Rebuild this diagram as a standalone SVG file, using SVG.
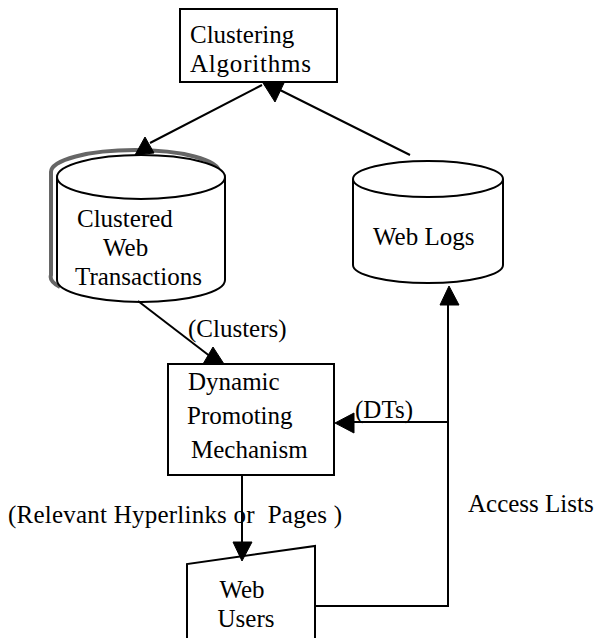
<svg xmlns="http://www.w3.org/2000/svg" width="597" height="638" viewBox="0 0 597 638">
  <style>
    .shape { fill: #ffffff; stroke: #000000; stroke-width: 2; }
    .shadow { fill: none; stroke: #666666; stroke-width: 4; }
    .line { fill: none; stroke: #000000; stroke-width: 2; }
    .head { fill: #000000; stroke: #000000; stroke-width: 1; stroke-linejoin: miter; }
    text { font-family: "Liberation Serif", "Times New Roman", serif; font-size: 25px; fill: #000000; white-space: pre; }
  </style>
  <rect width="597" height="638" fill="#ffffff"/>

  <!-- Clustering Algorithms -->
  <g id="clustering-algorithms">
    <rect class="shape" x="180" y="9" width="157" height="73"/>
    <text x="190" y="43">Clustering</text>
    <text x="190" y="72" textLength="121">Algorithms</text>
  </g>

  <!-- Clustered Web Transactions (stacked database) -->
  <g id="clustered-transactions">
    <path class="shadow" d="M51,172 A84,22 0 0 1 219,172 M51,172 L51,275 A84,22 0 0 0 60,287"/>
    <path class="shape" d="M57,177 L57,280 A84,22 0 0 0 225,280 L225,177 A84,22 0 0 0 57,177 Z"/>
    <path class="line" d="M57,177 A84,22 0 0 0 225,177"/>
    <text x="77" y="227">Clustered</text>
    <text x="103" y="256">Web</text>
    <text x="75" y="285">Transactions</text>
  </g>

  <!-- Web Logs -->
  <g id="web-logs">
    <path class="shape" d="M353,179 L353,265 A75,18 0 0 0 503,265 L503,179 A75,18 0 0 0 353,179 Z"/>
    <path class="line" d="M353,179 A75,18 0 0 0 503,179"/>
    <text x="373" y="245">Web Logs</text>
  </g>

  <!-- Dynamic Promoting Mechanism -->
  <g id="dynamic-promoting">
    <rect class="shape" x="168" y="364" width="166" height="111"/>
    <text x="188" y="390">Dynamic</text>
    <text x="187" y="424">Promoting</text>
    <text x="191" y="458">Mechanism</text>
  </g>

  <!-- Web Users (manual input) -->
  <g id="web-users">
    <path class="shape" d="M187,645 L187,564 L315,546 L315,645"/>
    <text x="242" y="598" text-anchor="middle">Web</text>
    <text x="246" y="627" text-anchor="middle">Users</text>
  </g>

  <!-- Connectors -->
  <g id="connectors">
    <!-- Web Logs to Clustering Algorithms -->
    <line class="line" x1="410" y1="155" x2="280" y2="90"/>
    <polygon class="head" points="263,83 284,83 275,102"/>
    <!-- Clustering Algorithms to Clustered Web Transactions -->
    <line class="line" x1="262" y1="85" x2="150" y2="143"/>
    <polygon class="head" points="145,137 135,155 154,153"/>
    <!-- Clusters to Dynamic Promoting Mechanism -->
    <line class="line" x1="138" y1="301" x2="211" y2="357"/>
    <polygon class="head" points="213,347 203,364 224,364"/>
    <text x="188" y="337">(Clusters)</text>
    <!-- Dynamic Promoting Mechanism to Web Users -->
    <line class="line" x1="242" y1="475" x2="242" y2="545"/>
    <polygon class="head" points="233,542 252,542 242,561"/>
    <text x="8" y="523" textLength="334">(Relevant Hyperlinks or  Pages )</text>
    <!-- Access lists from Web Users -->
    <polyline class="line" points="315,606 448,606 448,300"/>
    <polygon class="head" points="449,286 440,305 459,305"/>
    <text x="468" y="512">Access Lists</text>
    <!-- DTs back to Dynamic Promoting Mechanism -->
    <line class="line" x1="448" y1="422" x2="350" y2="422"/>
    <polygon class="head" points="335,423 354,413 354,433"/>
    <text x="355" y="418">(DTs)</text>
  </g>
</svg>
